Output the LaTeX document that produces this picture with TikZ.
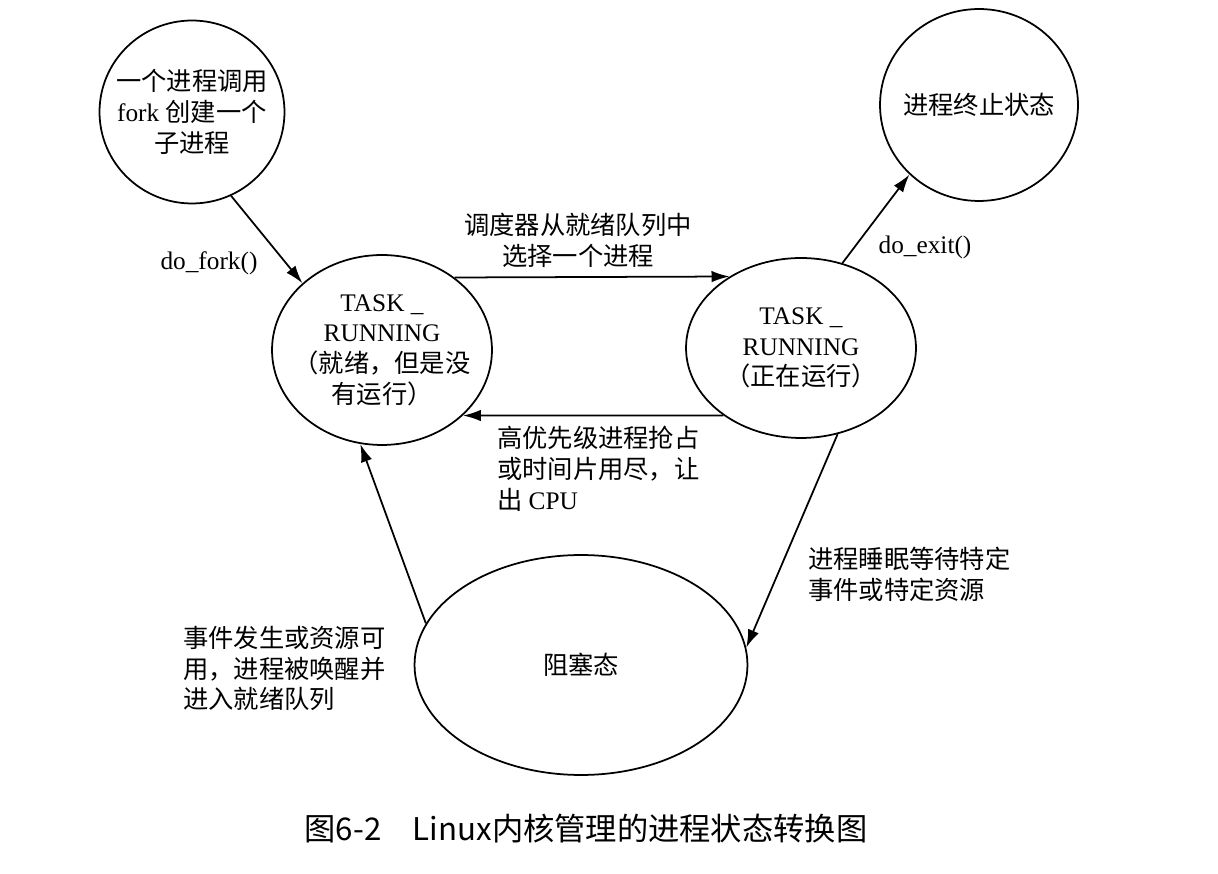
\documentclass[tikz,border=0pt]{standalone}
\usepackage{fontspec}
\setmainfont{Liberation Serif}
\newfontfamily\cjk{Noto Sans CJK SC}
\usetikzlibrary{shapes.geometric,arrows.meta}

\begin{document}
\begin{tikzpicture}[x=0.02cm, y=-0.02cm, font=\fontsize{14.4}{17.5}\selectfont]

    % Styles for states, text labels and transitions
    \tikzset{proc/.style={draw, ellipse, line width=1pt, inner sep=0pt},
             txt/.style={label={[align=center]center:#1}},
             lbl/.style={inner sep=1pt, align=left},
             trans/.style={line width=1pt, -{Latex[length=3.6mm, width=2.3mm]}}}

    % Keep the page the size of the reference (pixel units)
    \useasboundingbox (0,0) rectangle (1218,874);

    % --- States (text set as a centred label, so it does not grow the outline) ---
    \node[proc, minimum width=3.7cm, minimum height=3.66cm,
          txt={{\cjk 一个进程调用}\\fork {\cjk 创建一个}\\{\cjk 子进程}}] (fork) at (192,112) {};
    \node[proc, minimum width=3.96cm, minimum height=3.84cm,
          txt={\cjk 进程终止状态}] (exited) at (979,105) {};
    \node[proc, minimum width=4.4cm, minimum height=3.8cm,
          txt={TASK \_\\RUNNING\\{\cjk （就绪，但是没}\\{\cjk 有运行）}}] (ready) at (382,350) {};
    \node[proc, minimum width=4.6cm, minimum height=3.6cm,
          txt={TASK \_\\RUNNING\\{\cjk （正在运行）}}] (running) at (801,348) {};
    \node[proc, minimum width=6.66cm, minimum height=4.4cm,
          txt={\cjk 阻塞态}] (blocked) at (581,665) {};

    % --- Transitions ---
    \draw[trans] (fork.-65) -- (ready.140);
    \draw[trans] (ready.45) -- (running.135);
    \draw[trans] (running.-139) -- (ready.-39);
    \draw[trans] (running.64) -- (exited.225);
    \draw[trans] (running.-67) -- (blocked.6);
    \draw[trans] (blocked.165) -- (ready.257);

    % --- Transition labels ---
    \node[lbl] (lfork) at (209,263) {do\_fork()};
    \node[lbl, align=center] (lsched) at (578,240)
      {{\cjk 调度器从就绪队列中}\\{\cjk 选择一个进程}};
    \node[lbl] (lexit) at (925,247) {do\_exit()};
    \node[lbl, anchor=north west] (lpreempt) at (495,424)
      {{\cjk 高优先级进程抢占}\\{\cjk 或时间片用尽，让}\\{\cjk 出} CPU};
    \node[lbl, anchor=north west] (lsleep) at (806,545)
      {{\cjk 进程睡眠等待特定}\\{\cjk 事件或特定资源}};
    \node[lbl, anchor=north west] (lwake) at (181,624)
      {{\cjk 事件发生或资源可}\\{\cjk 用，进程被唤醒并}\\{\cjk 进入就绪队列}};

    % Caption
    \node[inner sep=0pt, font=\cjk\fontsize{17.8}{21}\selectfont] (caption) at (586,829)
      {图6-2\quad Linux内核管理的进程状态转换图};
\end{tikzpicture}
\end{document}
